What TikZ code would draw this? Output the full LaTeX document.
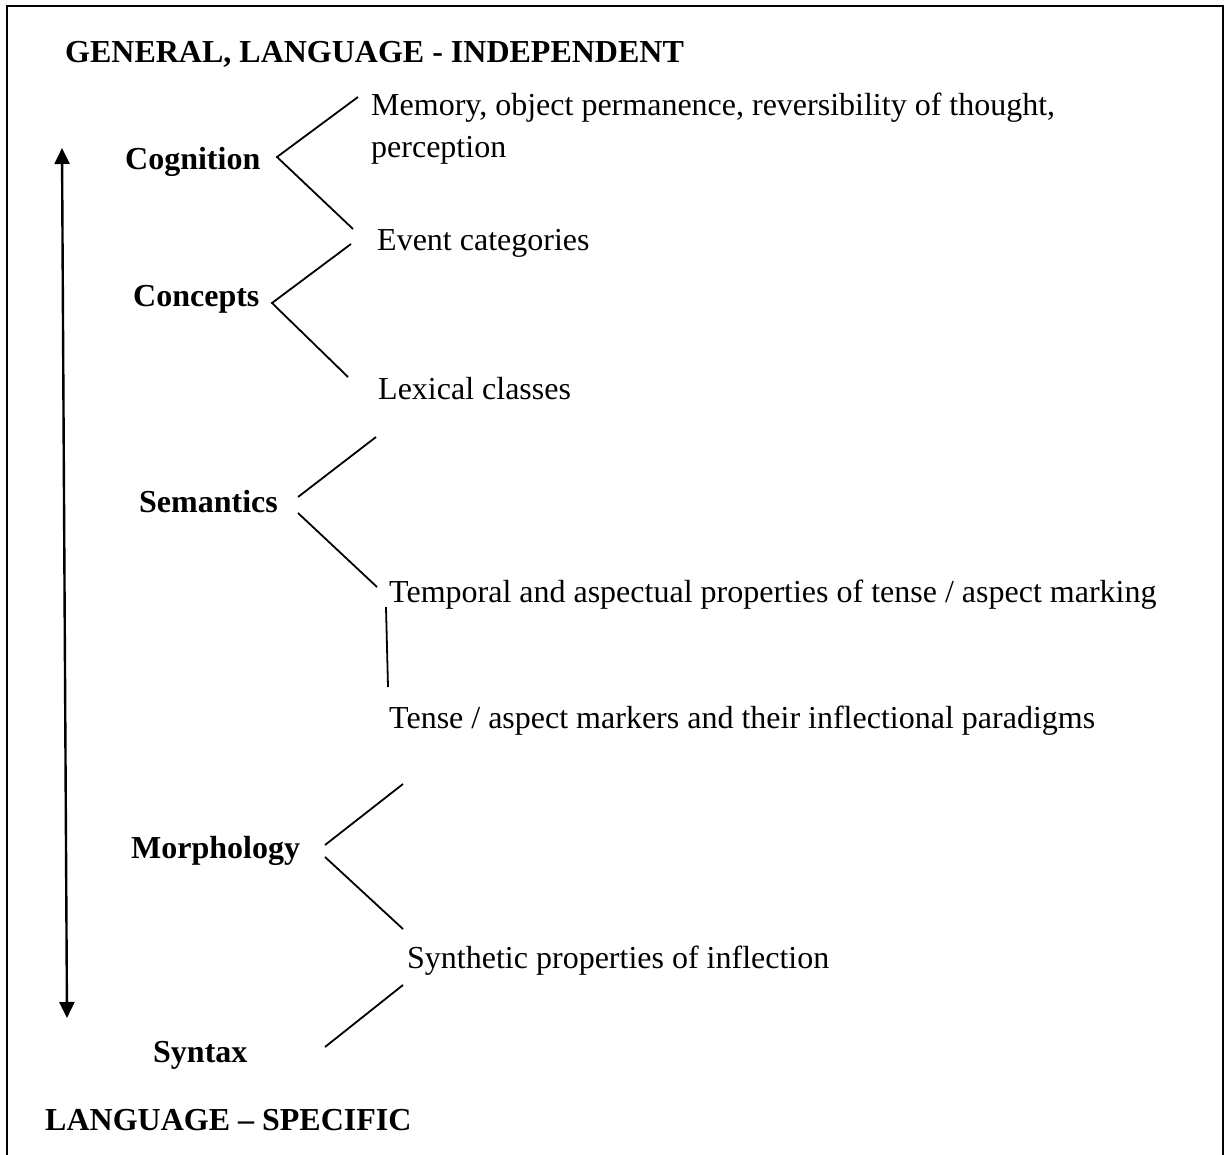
\documentclass[tikz,border=0pt]{standalone}
\usepackage{fontspec}
\setmainfont{Liberation Serif}
\usetikzlibrary{arrows.meta}
\begin{document}
\begin{tikzpicture}[x=1pt,y=-1pt,
  lab/.style={anchor=base west,inner sep=0pt,font=\fontsize{32}{38}\selectfont\bfseries},
  txt/.style={anchor=base west,inner sep=0pt,font=\fontsize{32}{38}\selectfont},
  conn/.style={line width=1.8pt},
  frame/.style={line width=2.2pt},
  dblarrow/.style={line width=2.4pt,>={Triangle[length=16pt,width=15pt]},<->}
]
\useasboundingbox (0,0) rectangle (1227,1155);
% frame (open at bottom, runs off the page)
\draw[frame] (7,1175) -- (7,6) -- (1223,6) -- (1223,1175);

% headings
\node[lab] (gen) at (65,63) {GENERAL, LANGUAGE - INDEPENDENT};
\node[lab] (spec) at (45,1130) {LANGUAGE – SPECIFIC};

% level labels
\node[lab] (cog) at (125,170) {Cognition};
\node[lab] (con) at (133,307) {Concepts};
\node[lab] (sem) at (139,513) {Semantics};
\node[lab] (mor) at (131,858) {Morphology};
\node[lab] (syn) at (153,1062) {Syntax};

% descriptions
\node[txt] (mem1) at (371,116) {Memory, object permanence, reversibility of thought,};
\node[txt] (mem2) at (371,158) {perception};
\node[txt] (evt) at (377,251) {Event categories};
\node[txt] (lex) at (378,400) {Lexical classes};
\node[txt] (tmp) at (389,602) {Temporal and aspectual properties of tense / aspect marking};
\node[txt] (tns) at (389,728) {Tense / aspect markers and their inflectional paradigms};
\node[txt] (snt) at (407,968) {Synthetic properties of inflection};

% double arrow
\coordinate (arrTop) at (62,148);
\coordinate (arrBot) at (67,1018);
\draw[dblarrow] (arrTop) -- (arrBot);

% connector end points
\coordinate (cogP) at (277,157);
\coordinate (cogU) at (358,97);
\coordinate (cogD) at (353,229);
\coordinate (conP) at (272,303);
\coordinate (conU) at (351,244);
\coordinate (conD) at (348,377);
\coordinate (semPu) at (298,497);
\coordinate (semPd) at (298,513);
\coordinate (semU) at (376,437);
\coordinate (semD) at (377,587);
\coordinate (vTop) at (386,607);
\coordinate (vBot) at (388,687);
\coordinate (morPu) at (325,845);
\coordinate (morPd) at (325,857);
\coordinate (morU) at (403,784);
\coordinate (morD) at (403,929);
\coordinate (synP) at (325,1047);
\coordinate (synU) at (403,985);

% connectors
\draw[conn] (cogU) -- (cogP) -- (cogD);
\draw[conn] (conU) -- (conP) -- (conD);
\draw[conn] (semPu) -- (semU);
\draw[conn] (semPd) -- (semD);
\draw[conn] (vTop) -- (vBot);
\draw[conn] (morPu) -- (morU);
\draw[conn] (morPd) -- (morD);
\draw[conn] (synP) -- (synU);
\end{tikzpicture}
\end{document}
